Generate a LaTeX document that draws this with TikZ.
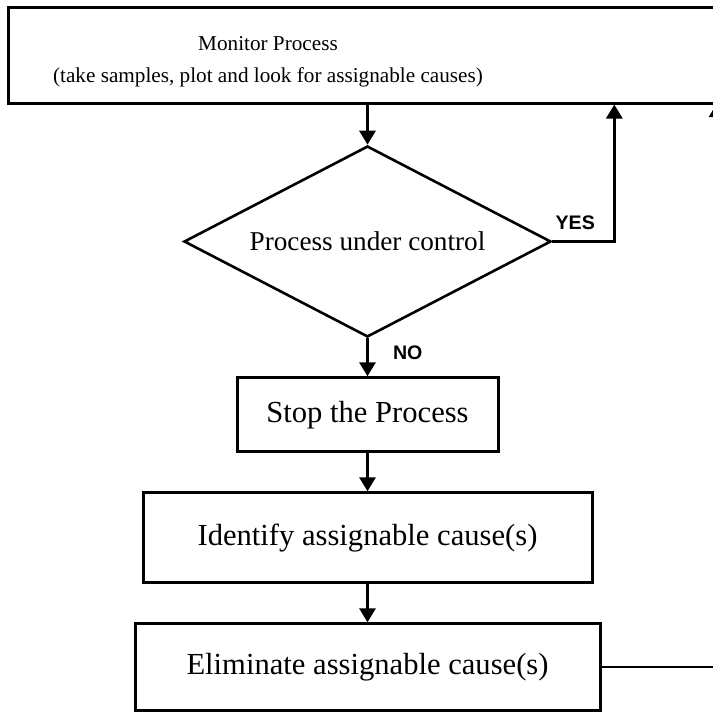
\documentclass[tikz,border=0pt]{standalone}
\usepackage{fontspec}
\setmainfont{Liberation Serif}
\newfontfamily\labelfont{Liberation Sans}
\usetikzlibrary{arrows.meta,positioning,shapes.geometric}

\begin{document}
\begin{tikzpicture}[
  x=0.5pt, y=-0.5pt,
  box/.style={draw, line width=1.5pt, align=center, inner sep=2pt, font=\fontsize{15.3}{18}\selectfont},
  decision/.style={draw, diamond, line width=1.3pt, aspect=1.92, inner sep=0pt, minimum width=183.5pt, minimum height=95.5pt, font=\fontsize{13.6}{16}\selectfont},
  arrow/.style={-{Triangle[length=7pt,width=8pt]}, line width=1.5pt},
  answer/.style={font=\labelfont\bfseries\fontsize{9.8}{12}\selectfont, inner sep=1pt},
]
  \useasboundingbox (0,0) rectangle (713,713);
  \fill[white] (0,0) rectangle (713,713);
  \clip (0,0) rectangle (713,713);

  \node[box, minimum width=361pt, minimum height=48pt] (monitor) at (369,55) {};
  \node[font=\fontsize{10.6}{16}\selectfont, align=center] (montext) at (268,62) {Monitor Process\\ (take samples, plot and look for assignable causes)};
  \node[decision] (check) at (367.5,241.5) {Process under control};
  \node[box, minimum width=130.5pt, minimum height=37pt, below=19pt of check] (stop) {Stop the Process};
  \node[box, minimum width=224.5pt, minimum height=45pt, below=19pt of stop] (identify) {Identify assignable cause(s)};
  \node[box, minimum width=232.5pt, minimum height=43.5pt, below=19pt of identify] (eliminate) {Eliminate assignable cause(s)};

  \coordinate (yescorner) at ([xshift=31pt]check.east);
  \coordinate (back) at (717,103);

  \draw[arrow] (check.north |- monitor.south) -- (check.north);
  \draw[arrow] (check.east) -- node[answer, pos=0.37, above=4pt] (yes) {YES} (yescorner) -- (yescorner |- monitor.south);
  \draw[arrow] (check.south) -- node[answer, pos=0.37, right=11pt] (no) {NO} (stop.north);
  \draw[arrow] (stop) -- (identify);
  \draw[arrow] (identify) -- (eliminate);
  \draw[arrow, line width=1pt] (eliminate.east) -| (back);
\end{tikzpicture}
\end{document}
